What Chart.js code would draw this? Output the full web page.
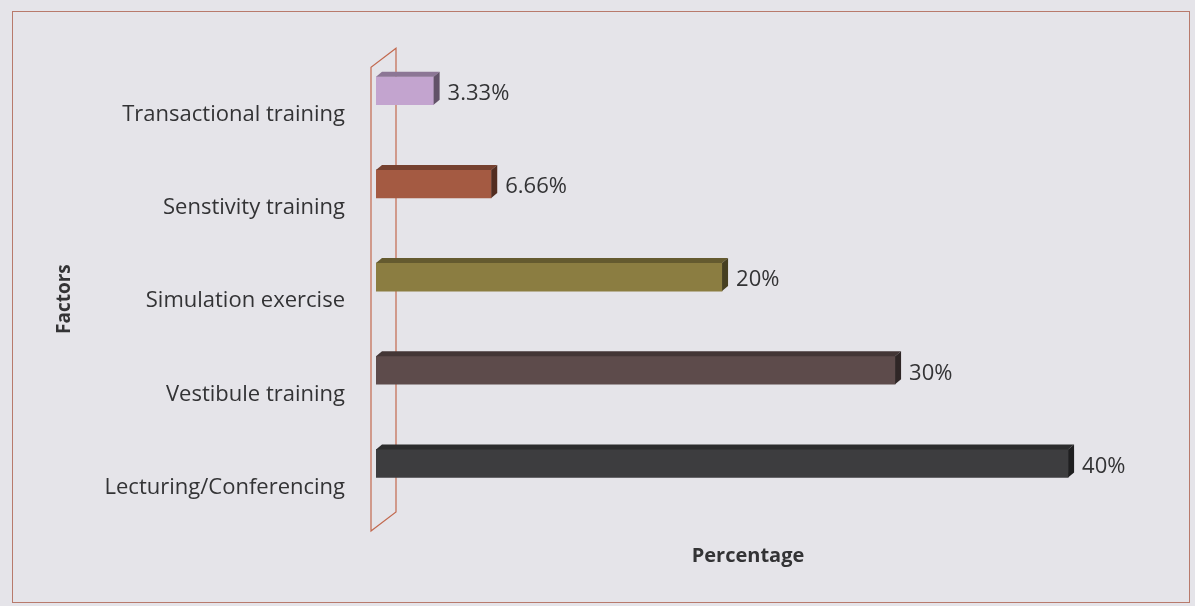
<!DOCTYPE html>
<html>
<head>
<meta charset="utf-8">
<title>Training methods</title>
<script src="https://cdn.jsdelivr.net/npm/chart.js@4.4.1/dist/chart.umd.min.js"></script>
<style>
  html, body { margin: 0; padding: 0; background: #e5e4e9; }
  #wrap { width: 1195px; height: 606px; }
</style>
</head>
<body>
<div id="wrap"><canvas id="myChart" width="1195" height="606"></canvas></div>
<script>
const factors = ['Transactional training', 'Senstivity training', 'Simulation exercise', 'Vestibule training', 'Lecturing/Conferencing'];
const percentages = [3.33, 6.66, 20, 30, 40];
const valueLabels = ['3.33%', '6.66%', '20%', '30%', '40%'];
const barColors = ['#c3a4cf', '#a45a42', '#8b7d41', '#5d4b4b', '#3d3d3f'];

const textColor = '#333335';
const fontFamily = '"Open Sans", sans-serif';
const depth = { dx: 6, dy: 5 };

// shade a hex colour towards black
function shade(hex, f) {
  const n = parseInt(hex.slice(1), 16);
  const r = Math.round(((n >> 16) & 255) * f);
  const g = Math.round(((n >> 8) & 255) * f);
  const b = Math.round((n & 255) * f);
  return `rgb(${r},${g},${b})`;
}

// paper background + thin frame
const paperFrame = {
  id: 'paperFrame',
  beforeDraw(chart) {
    const { ctx, width, height } = chart;
    ctx.save();
    ctx.fillStyle = '#e5e4e9';
    ctx.fillRect(0, 0, width, height);
    ctx.strokeStyle = '#b87a6c';
    ctx.lineWidth = 1;
    ctx.strokeRect(12.5, 11.5, 1177, 591);
    ctx.restore();
  }
};

// the slanted back wall outline behind the bars
const wall3d = {
  id: 'wall3d',
  beforeDatasetsDraw(chart) {
    const { ctx, chartArea: { top, bottom, left } } = chart;
    const fx = left - 5, bx = left + 20;
    ctx.save();
    ctx.strokeStyle = '#c2694f';
    ctx.lineWidth = 1.2;
    ctx.beginPath();
    ctx.moveTo(fx, bottom + 21);
    ctx.lineTo(fx, top + 23);
    ctx.lineTo(bx, top + 4);
    ctx.lineTo(bx, bottom + 2);
    ctx.closePath();
    ctx.stroke();
    ctx.restore();
  }
};

// top and end faces for each bar, then the value text
const bar3d = {
  id: 'bar3d',
  afterDatasetsDraw(chart) {
    const { ctx } = chart;
    const meta = chart.getDatasetMeta(0);
    ctx.save();
    meta.data.forEach((bar, i) => {
      const { x, y, base, height } = bar.getProps(['x', 'y', 'base', 'height'], true);
      const top = y - height / 2, bot = y + height / 2;
      const c = barColors[i];

      // top face
      ctx.fillStyle = shade(c, 0.72);
      ctx.beginPath();
      ctx.moveTo(base, top);
      ctx.lineTo(base + depth.dx, top - depth.dy);
      ctx.lineTo(x + depth.dx, top - depth.dy);
      ctx.lineTo(x, top);
      ctx.closePath();
      ctx.fill();

      // end face
      ctx.fillStyle = shade(c, 0.5);
      ctx.beginPath();
      ctx.moveTo(x, top);
      ctx.lineTo(x + depth.dx, top - depth.dy);
      ctx.lineTo(x + depth.dx, bot - depth.dy);
      ctx.lineTo(x, bot);
      ctx.closePath();
      ctx.fill();

      ctx.fillStyle = textColor;
      ctx.font = '22px ' + fontFamily;
      ctx.textAlign = 'left';
      ctx.textBaseline = 'middle';
      ctx.fillText(valueLabels[i], x + depth.dx + 8, y + 3);
    });
    ctx.restore();
  }
};

// rotated axis name on the left, sitting a little below the plot middle
const sideTitle = {
  id: 'sideTitle',
  afterDraw(chart) {
    const { ctx, chartArea: { top, bottom } } = chart;
    ctx.save();
    ctx.translate(65, (top + bottom) / 2 + 22);
    ctx.rotate(-Math.PI / 2);
    ctx.fillStyle = textColor;
    ctx.font = 'bold 19px ' + fontFamily;
    ctx.textAlign = 'center';
    ctx.textBaseline = 'middle';
    ctx.fillText('Factors', 0, 0);
    ctx.restore();
  }
};

const data = {
  labels: factors,
  datasets: [{
    data: percentages,
    backgroundColor: barColors,
    borderWidth: 0,
    barThickness: 28
  }]
};

const config = {
  type: 'bar',
  data,
  options: {
    indexAxis: 'y',
    responsive: false,
    animation: false,
    layout: { padding: { left: 54, top: 39, right: 75, bottom: 34 } },
    plugins: {
      legend: { display: false },
      tooltip: { enabled: false }
    },
    scales: {
      x: {
        min: 0,
        max: 43,
        grid: { display: false, drawTicks: false },
        border: { display: false },
        ticks: { display: false },
        title: {
          display: true,
          text: 'Percentage',
          color: textColor,
          font: { family: fontFamily, size: 20, weight: 'bold' },
          padding: { top: 34, bottom: 4 }
        }
      },
      y: {
        grid: { display: false, drawTicks: false },
        border: { display: false },
        afterFit(scale) { scale.width = 322; },
        ticks: {
          color: textColor,
          font: { family: fontFamily, size: 22 },
          padding: 31,
          labelOffset: 24
        }
      }
    }
  },
  plugins: [paperFrame, wall3d, bar3d, sideTitle]
};

const myChart = new Chart(document.getElementById('myChart'), config);
</script>
</body>
</html>
